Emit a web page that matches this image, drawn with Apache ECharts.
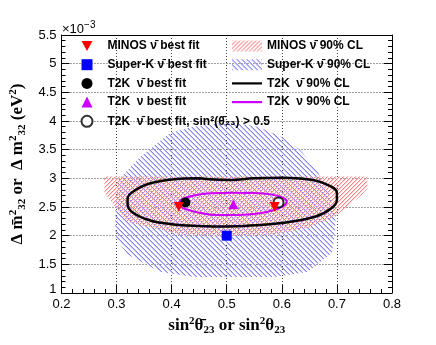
<!DOCTYPE html>
<html>
<head>
<meta charset="utf-8">
<script src="https://cdn.jsdelivr.net/npm/echarts@6/dist/echarts.min.js"></script>
<style>
  html, body { margin: 0; padding: 0; background: #fff; }
  #chart { width: 436px; height: 345px; }
</style>
</head>
<body>
<div id="chart"></div>
<script>
  // axis ranges (y in units of 1e-3 eV^2)
  const xRange = [0.2, 0.8]
  const yRange = [1, 5.5]

  // best fit points [sin^2 theta23, dm2_32]
  const minosBest = [[0.413, 2.50], [0.587, 2.50]]
  const superkBest = [[0.50, 2.00]]
  const t2kBarBest = [[0.425, 2.58]]
  const t2kNuBest = [[0.512, 2.55]]
  const t2kBarUpper = [[0.594, 2.58]]

  // 90% CL regions / contours
  const superkCL = [
    [0.397, 3.79], [0.439, 3.90], [0.506, 3.98], [0.557, 3.90], [0.600, 3.72],
    [0.633, 3.50], [0.666, 3.10], [0.687, 2.71], [0.698, 2.36], [0.696, 2.02],
    [0.691, 1.70], [0.647, 1.37], [0.588, 1.28], [0.501, 1.28], [0.439, 1.28],
    [0.379, 1.37], [0.320, 1.67], [0.298, 1.96], [0.298, 2.49], [0.303, 2.97],
    [0.343, 3.37]
  ]
  const minosCL = [
    [0.278, 3.03], [0.755, 3.03], [0.755, 2.82], [0.745, 2.71], [0.696, 2.33],
    [0.647, 2.14], [0.588, 2.02], [0.497, 2.00], [0.416, 2.02], [0.320, 2.24],
    [0.298, 2.50], [0.278, 2.75]
  ]
  const t2kBarCL = [
    [0.45, 3.00], [0.50, 2.97], [0.55, 3.00], [0.60, 3.01], [0.65, 2.98],
    [0.68, 2.90], [0.70, 2.75], [0.70, 2.62], [0.69, 2.48], [0.66, 2.33],
    [0.60, 2.22], [0.55, 2.18], [0.50, 2.16], [0.45, 2.17], [0.40, 2.20],
    [0.36, 2.27], [0.33, 2.40], [0.32, 2.55], [0.32, 2.65], [0.335, 2.80],
    [0.36, 2.91], [0.40, 2.98], [0.45, 3.00]
  ]
  const t2kNuCL = [
    [0.51, 2.75], [0.55, 2.745], [0.58, 2.72], [0.60, 2.67], [0.609, 2.60],
    [0.605, 2.53], [0.59, 2.46], [0.56, 2.39], [0.52, 2.36], [0.48, 2.36],
    [0.45, 2.40], [0.43, 2.45], [0.416, 2.51], [0.414, 2.57], [0.42, 2.64],
    [0.44, 2.70], [0.47, 2.74], [0.51, 2.75]
  ]

  const nb = 'ν\u0304'
  const names = {
    minos: 'MINOS ' + nb + ' best fit',
    superk: 'Super-K ' + nb + ' best fit',
    t2kBar: 'T2K  ' + nb + ' best fit',
    t2kNu: 'T2K  ν best fit',
    t2kUp: 'T2K  ' + nb + ' best fit, sin²(θ\u0304₂₃) > 0.5',
    minosCL: 'MINOS ' + nb + ' 90% CL',
    superkCL: 'Super-K ' + nb + ' 90% CL',
    t2kBarCL: 'T2K  ' + nb + ' 90% CL',
    t2kNuCL: 'T2K  ν 90% CL'
  }

  // diagonal hatch tile: a darker core pixel plus a lighter neighbour
  const hatch = (core, edge, up, step) => {
    const c = document.createElement('canvas')
    c.width = step
    c.height = step
    const ctx = c.getContext('2d')
    for (let i = 0; i < step; i++) {
      const y = up ? step - 1 - i : i
      ctx.fillStyle = core
      ctx.fillRect(i, y, 1, 1)
      ctx.fillStyle = edge
      ctx.fillRect(i, (y + 1) % step, 1, 1)
    }
    return { image: c, repeat: 'repeat' }
  }
  const redHatch = hatch('#f48484', '#fcd4d4', true, 4)
  const blueHatch = hatch('#8282ee', '#c6c6f8', false, 5)

  const region = (name, pts, fill) => ({
    name: name,
    type: 'custom',
    data: pts,
    itemStyle: { color: fill },
    renderItem: (params, api) => {
      if (params.dataIndex !== 0) return
      return {
        type: 'polygon',
        shape: { points: pts.map(p => api.coord(p)) },
        style: { fill: fill, stroke: null }
      }
    },
    silent: true
  })

  const marker = (name, data, symbol, color, extra) => Object.assign({
    name: name,
    type: 'scatter',
    data: data,
    symbol: symbol,
    symbolSize: 10,
    symbolKeepAspect: true,
    itemStyle: { color: color, opacity: 1 },
    z: 5
  }, extra || {})

  const sansFont = 'Liberation Sans'
  const serifFont = 'Liberation Serif'
  const titleRich = {
    t: { fontFamily: serifFont, fontWeight: 'bold', fontSize: 17, color: '#000' },
    p: { fontFamily: serifFont, fontWeight: 'bold', fontSize: 11, color: '#000', padding: [0, 0, 9, 0] },
    s: { fontFamily: serifFont, fontWeight: 'bold', fontSize: 11, color: '#000', padding: [8, 0, 0, 0] }
  }

  const chart = echarts.init(document.getElementById('chart'))

  const gridLine = { show: true, lineStyle: { type: [1, 2], color: '#444', width: 1 } }
  const lineIcon = 'path://M0,0H30V2.2H0Z'
  const downTriangle = 'path://M0,0H10L5,9Z'
  const legendBase = {
    orient: 'vertical',
    itemHeight: 11,
    itemGap: 6.7,
    padding: 0,
    selectedMode: false,
    textStyle: { fontFamily: sansFont, fontWeight: 'bold', fontSize: 12, color: '#000' }
  }

  const option = {
    animation: false,
    grid: { left: 61, right: 44, top: 35, bottom: 52 },
    legend: [
      Object.assign({}, legendBase, {
        left: 80.5, top: 40,
        itemWidth: 11,
        textStyle: Object.assign({}, legendBase.textStyle, { padding: [0, 0, 0, 10] }),
        data: [
          { name: names.minos, icon: downTriangle },
          names.superk, names.t2kBar, names.t2kNu,
          { name: names.t2kUp, itemStyle: { borderWidth: 1 } }
        ]
      }),
      Object.assign({}, legendBase, {
        left: 232, top: 40,
        itemWidth: 30,
        data: [
          { name: names.minosCL, icon: 'rect' },
          { name: names.superkCL, icon: 'rect' },
          { name: names.t2kBarCL, icon: lineIcon },
          { name: names.t2kNuCL, icon: lineIcon }
        ]
      })
    ],
    xAxis: [
      {
        type: 'value', min: xRange[0], max: xRange[1], interval: 0.1,
        axisLine: { onZero: false, lineStyle: { color: '#000', width: 1 } },
        axisTick: { inside: true, length: 8, lineStyle: { color: '#000' } },
        minorTick: { show: true, splitNumber: 5, length: 4, lineStyle: { color: '#000' } },
        axisLabel: { fontFamily: sansFont, fontSize: 13, color: '#000', margin: 5 },
        splitLine: gridLine,
        name: '{t|sin}{p|2}{t|θ\u0304}{s|23}{t| or sin}{p|2}{t|θ}{s|23}',
        nameLocation: 'middle',
        nameGap: 18,
        nameTextStyle: { rich: titleRich }
      },
      {
        type: 'value', position: 'top', min: xRange[0], max: xRange[1], interval: 0.1,
        axisLine: { onZero: false, lineStyle: { color: '#000', width: 1 } },
        axisTick: { show: false },
        axisLabel: { show: false },
        splitLine: { show: false }
      }
    ],
    yAxis: [
      {
        type: 'value', min: yRange[0], max: yRange[1], interval: 0.5,
        axisLine: { show: true, onZero: false, lineStyle: { color: '#000', width: 1 } },
        axisTick: { show: true, inside: true, length: 8, lineStyle: { color: '#000' } },
        minorTick: { show: true, splitNumber: 5, length: 4, lineStyle: { color: '#000' } },
        axisLabel: {
          fontFamily: sansFont, fontSize: 13, color: '#000', margin: 5,
          formatter: v => (v === yRange[0] ? '{low|' + v + '}' : String(v)),
          rich: { low: { fontFamily: sansFont, fontSize: 13, color: '#000', padding: [0, 0, 8, 0] } }
        },
        splitLine: gridLine,
        name: '{t|Δ m\u0304}{p|2}{s|32}{t| or  Δ m}{p|2}{s|32}{t| (eV}{p|2}{t|)}',
        nameLocation: 'middle',
        nameRotate: 90,
        nameGap: 32,
        nameTextStyle: { rich: titleRich }
      },
      {
        type: 'value', position: 'right', min: yRange[0], max: yRange[1], interval: 0.5,
        axisLine: { show: true, onZero: false, lineStyle: { color: '#000', width: 1 } },
        axisTick: { show: true, inside: true, length: 8, lineStyle: { color: '#000' } },
        minorTick: { show: true, splitNumber: 5, length: 4, lineStyle: { color: '#000' } },
        axisLabel: { show: false },
        splitLine: { show: false }
      }
    ],
    graphic: [
      {
        type: 'text', left: 62, top: 20,
        style: {
          text: '{a|×10}{b|−3}',
          rich: {
            a: { fontFamily: sansFont, fontSize: 13, fill: '#000' },
            b: { fontFamily: sansFont, fontSize: 10, fill: '#000', padding: [0, 0, 8, 0] }
          }
        }
      }
    ],
    series: [
      region(names.superkCL, superkCL, blueHatch),
      region(names.minosCL, minosCL, redHatch),
      {
        name: names.t2kBarCL, type: 'line', data: t2kBarCL, smooth: 0.4,
        showSymbol: false, symbol: 'none', z: 4,
        lineStyle: { color: '#000', width: 2.5 }, itemStyle: { color: '#000' }
      },
      {
        name: names.t2kNuCL, type: 'line', data: t2kNuCL, smooth: 0.4,
        showSymbol: false, symbol: 'none', z: 4,
        lineStyle: { color: '#cc00ff', width: 2 }, itemStyle: { color: '#cc00ff' }
      },
      marker(names.t2kUp, t2kBarUpper, 'emptyCircle', '#000', {
        itemStyle: { color: '#000', borderColor: '#000', borderWidth: 0.8 }
      }),
      marker(names.superk, superkBest, 'rect', '#0000ff'),
      marker(names.t2kBar, t2kBarBest, 'circle', '#000'),
      marker(names.t2kNu, t2kNuBest, 'triangle', '#cc00ff'),
      marker(names.minos, minosBest, 'triangle', '#ff0000', { symbolRotate: 180 })
    ]
  }

  chart.setOption(option)
</script>
</body>
</html>
